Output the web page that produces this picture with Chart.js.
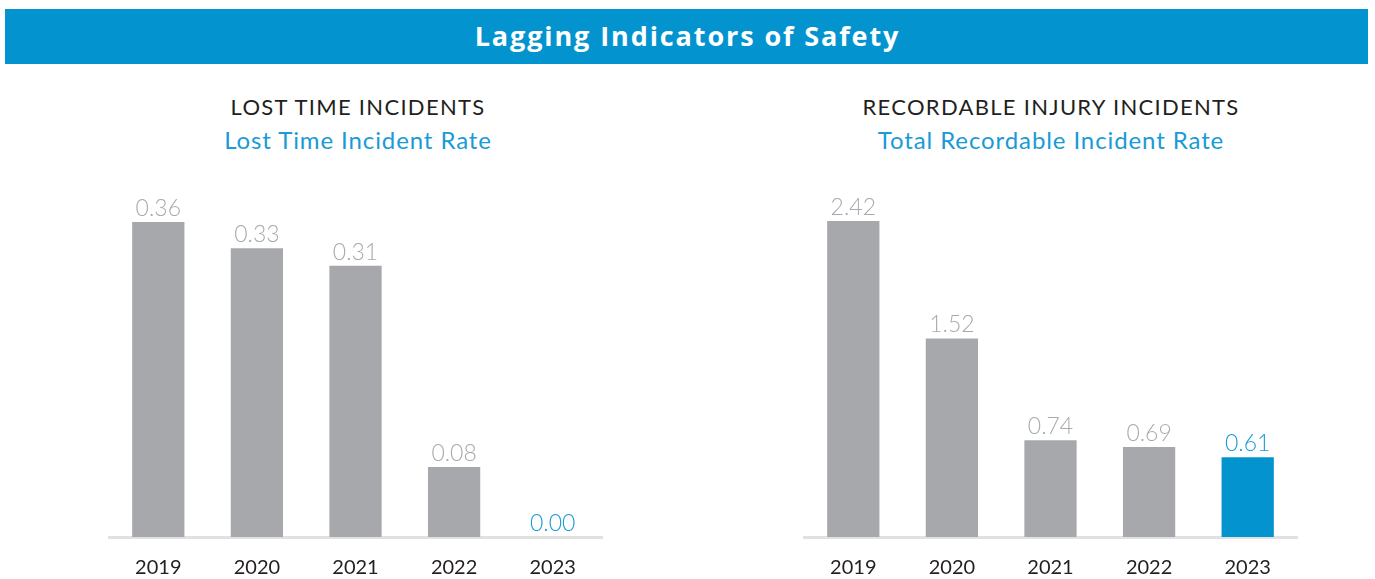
<!DOCTYPE html>
<html>
<head>
<meta charset="utf-8">
<script src="https://cdn.jsdelivr.net/npm/chart.js@4.4.1/dist/chart.umd.min.js"></script>
<style>
  html, body { margin: 0; padding: 0; background: #ffffff; }
  body { width: 1375px; height: 579px; position: relative; overflow: hidden; font-family: Lato, "Open Sans", sans-serif; }
  .banner { position: absolute; left: 5px; top: 9px; width: 1363px; height: 55px; background: #0394d0; }
  .banner-title { position: absolute; left: 0; width: 1375px; top: 22px; text-align: center; color: #ffffff; font: 700 27px/27px "Open Sans", Lato, sans-serif; letter-spacing: 1.9px; }
  .heading { position: absolute; text-align: center; color: #231f20; font: 400 22px/22px Lato, sans-serif; letter-spacing: 1.3px; width: 500px; }
  .sub { position: absolute; text-align: center; color: #1a9ad6; font: 400 24px/24px Lato, sans-serif; letter-spacing: 0.9px; width: 500px; }
  .chartbox { position: absolute; top: 170px; height: 409px; }
</style>
</head>
<body>
<div class="banner"></div>
<div class="banner-title">Lagging Indicators of Safety</div>

<div class="heading" style="left:108px; top:96px;">LOST TIME INCIDENTS</div>
<div class="sub" style="left:108px; top:128px;">Lost Time Incident Rate</div>
<div class="heading" style="left:801px; top:96px;">RECORDABLE INJURY INCIDENTS</div>
<div class="sub" style="left:801px; top:128px;">Total Recordable Incident Rate</div>

<div class="chartbox" style="left:0px; width:690px;"><canvas id="ltir"></canvas></div>
<div class="chartbox" style="left:690px; width:685px;"><canvas id="trir"></canvas></div>

<script>
// ---- Data ----
const years = ['2019', '2020', '2021', '2022', '2023'];
const ltirValues = [0.36, 0.33, 0.31, 0.08, 0.00];
const trirValues = [2.42, 1.52, 0.74, 0.69, 0.61];

// ---- Style ----
const GRAY = '#a7a8ab';
const BLUE = '#0394d0';
const LABEL_GRAY = '#a9aaad';
const LABEL_BLUE = '#1a9ad6';

const valueLabels = {
  id: 'valueLabels',
  afterDatasetsDraw(chart) {
    const ctx = chart.ctx;
    const meta = chart.getDatasetMeta(0);
    const ds = chart.data.datasets[0];
    ctx.save();
    ctx.font = '300 23px Lato, sans-serif';
    ctx.textAlign = 'center';
    ctx.textBaseline = 'alphabetic';
    meta.data.forEach((el, i) => {
      const last = i === ds.data.length - 1;
      ctx.fillStyle = last ? LABEL_BLUE : LABEL_GRAY;
      ctx.fillText(Number(ds.data[i]).toFixed(2), el.x, el.y - 6);
    });
    ctx.restore();
  }
};

function makeChart(id, values, yMax, padLeft, padRight, lastBlue) {
  const colors = values.map((v, i) => (lastBlue && i === values.length - 1) ? BLUE : GRAY);
  return new Chart(document.getElementById(id), {
    type: 'bar',
    data: {
      labels: years,
      datasets: [{
        data: values,
        backgroundColor: colors,
        borderWidth: 0,
        barPercentage: 0.53,
        categoryPercentage: 1.0
      }]
    },
    options: {
      responsive: true,
      maintainAspectRatio: false,
      animation: false,
      events: [],
      layout: { padding: { left: padLeft, right: padRight, top: 17, bottom: 0 } },
      plugins: { legend: { display: false }, tooltip: { enabled: false }, title: { display: false } },
      scales: {
        x: {
          grid: { display: false, drawTicks: false },
          border: { display: true, color: '#e1e1e1', width: 3 },
          ticks: { color: '#231f20', font: { family: 'Lato', size: 20, weight: '400' }, padding: 19 },
          afterFit(scale) { scale.height = 42; }
        },
        y: {
          display: false,
          min: 0,
          max: yMax
        }
      }
    },
    plugins: [valueLabels]
  });
}

makeChart('ltir', ltirValues, 0.40, 109, 88, false);
makeChart('trir', trirValues, 2.68, 114, 78, true);
</script>
</body>
</html>
